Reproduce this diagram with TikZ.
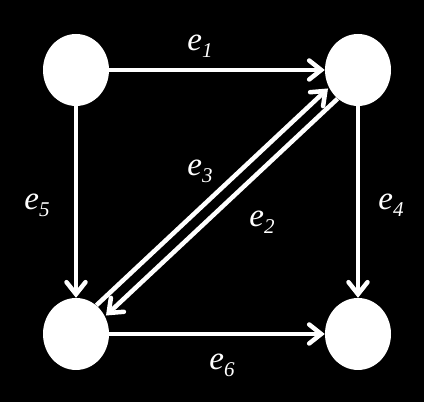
\documentclass[tikz,border=0pt]{standalone}
\usepackage{fontspec}
\setmainfont{Liberation Serif}
\usetikzlibrary{arrows.meta,shapes.geometric}
\def\rx{66pt}
\def\ry{72pt}
\newcommand{\elab}[1]{\fontsize{33}{33}\selectfont\itshape e\raisebox{-7pt}{\fontsize{21}{21}\selectfont #1}}

\begin{document}
\begin{tikzpicture}[x=1pt,y=1pt,
  vert/.style={ellipse,fill=white,minimum width=\rx,minimum height=\ry,inner sep=0pt},
  edge/.style={white,line width=4.5pt,-{Straight Barb[length=12pt,width=19pt,line cap=round]}},
  lab/.style={text=white,inner sep=0pt}]

%black background, 424x402
\fill[black] (0,0) rectangle (424,402);
\useasboundingbox (0,0) rectangle (424,402);

\node[vert] (tl) at (76,332) {};
\node[vert] (tr) at (358,332) {};
\node[vert] (bl) at (76,68) {};
\node[vert] (br) at (358,68) {};

\draw[edge] (tl) -- (tr);
\draw[edge] (tl) -- (bl);
\draw[edge] (tr) -- (br);
\draw[edge] (bl) -- (br);
%the two diagonal edges, shifted apart
\draw[edge,transform canvas={shift={(-4.8,5.1)}}] (bl) -- (tr);
\draw[edge,transform canvas={shift={(4.8,-5.1)}}] (tr) -- (bl);

\node[lab] (l1) at (200,356) {\elab{1}};
\node[lab] (l3) at (200,231) {\elab{3}};
\node[lab] (l2) at (262,180) {\elab{2}};
\node[lab] (l5) at (37,197) {\elab{5}};
\node[lab] (l4) at (391,197) {\elab{4}};
\node[lab] (l6) at (222,37) {\elab{6}};

\end{tikzpicture}
\end{document}
